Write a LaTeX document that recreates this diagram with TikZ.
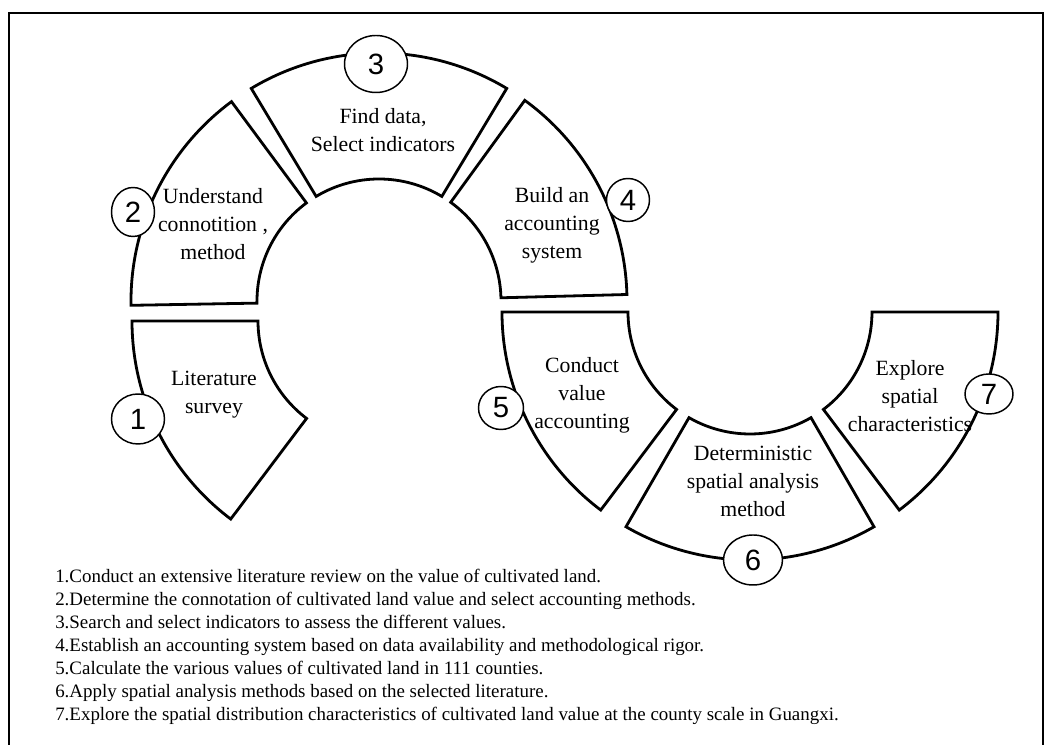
\documentclass[tikz,border=0pt]{standalone}
\usepackage{fontspec}
\setmainfont{Liberation Serif}
\newfontfamily\numfont{Liberation Sans}
\usetikzlibrary{shapes.geometric}
\begin{document}
\begin{tikzpicture}[x=0.75pt,y=0.75pt,
  sector/.style={draw=black,line width=2.1pt,line join=miter},
  frame/.style={draw=black,line width=2pt},
  steptext/.style={align=center,inner sep=0pt,font=\fontsize{16.3}{21}\selectfont},
  numcirc/.style 2 args={ellipse,draw=black,line width=1.1pt,fill=white,inner sep=0pt,
    minimum width={#1*0.75pt},minimum height={#2*0.75pt},font=\numfont\fontsize{22}{22}\selectfont},
  listtext/.style={align=left,inner sep=0pt,font=\fontsize{14.2}{17.3}\selectfont}]
  \useasboundingbox (0,0) rectangle (1047,745);
  \draw[frame] (9,0) -- (9,732) -- (1043,732) -- (1043,0);
  % upper ring
  \draw[sector,shift={(379,444)}] (126.5:248) arc[start angle=126.5,end angle=181,radius=248]
    -- (181:122) arc[start angle=181,end angle=126.5,radius=122] -- cycle;
  \draw[sector,shift={(379,444)}] (59:248) arc[start angle=59,end angle=121,radius=248]
    -- (121:122) arc[start angle=121,end angle=59,radius=122] -- cycle;
  \draw[sector,shift={(379,444)}] (1.5:248) arc[start angle=1.5,end angle=54,radius=248]
    -- (54:122) arc[start angle=54,end angle=1.5,radius=122] -- cycle;
  % first step, below
  \draw[sector,shift={(380,424)}] (180:248) arc[start angle=180,end angle=233,radius=248]
    -- (233:122) arc[start angle=233,end angle=180,radius=122] -- cycle;
  % lower ring
  \draw[sector,shift={(750,433)}] (180:248) arc[start angle=180,end angle=233,radius=248]
    -- (233:122) arc[start angle=233,end angle=180,radius=122] -- cycle;
  \draw[sector,shift={(750,433)}] (240:248) arc[start angle=240,end angle=300,radius=248]
    -- (300:122) arc[start angle=300,end angle=240,radius=122] -- cycle;
  \draw[sector,shift={(750,433)}] (307:248) arc[start angle=307,end angle=360,radius=248]
    -- (360:122) arc[start angle=360,end angle=307,radius=122] -- cycle;
  % texts
  \node[steptext] (lit) at (214,350) {Literature\\survey};
  \node[steptext] (conn) at (213,521) {Understand\\connotition ,\\method};
  \node[steptext] (data) at (383,615) {Find data,\\Select indicators};
  \node[steptext] (acc) at (552,520) {Build an\\accounting\\system};
  \node[steptext] (val) at (582,350) {Conduct\\value\\accounting};
  \node[steptext] (det) at (753,264) {Deterministic\\spatial analysis\\method};
  \node[steptext] (expl) at (910,349) {Explore\\spatial\\characteristics};
  % numbers
  \node[numcirc={53}{50}] (n1) at (138,326) {1};
  \node[numcirc={43}{49}] (n2) at (133,533) {2};
  \node[numcirc={63}{57}] (n3) at (376,681) {3};
  \node[numcirc={43}{43}] (n4) at (628,545) {4};
  \node[numcirc={45}{43}] (n5) at (501,337) {5};
  \node[numcirc={59}{50}] (n6) at (753,185) {6};
  \node[numcirc={48}{40}] (n7) at (989,351) {7};
  % list of steps (base = last line)
  \node[listtext,anchor=base west] (steps) at (55,24) {1.Conduct an extensive literature review on the value of cultivated land.\\
    2.Determine the connotation of cultivated land value and select accounting methods.\\
    3.Search and select indicators to assess the different values.\\
    4.Establish an accounting system based on data availability and methodological rigor.\\
    5.Calculate the various values of cultivated land in 111 counties.\\
    6.Apply spatial analysis methods based on the selected literature.\\
    7.Explore the spatial distribution characteristics of cultivated land value at the county scale in Guangxi.};
\end{tikzpicture}
\end{document}
